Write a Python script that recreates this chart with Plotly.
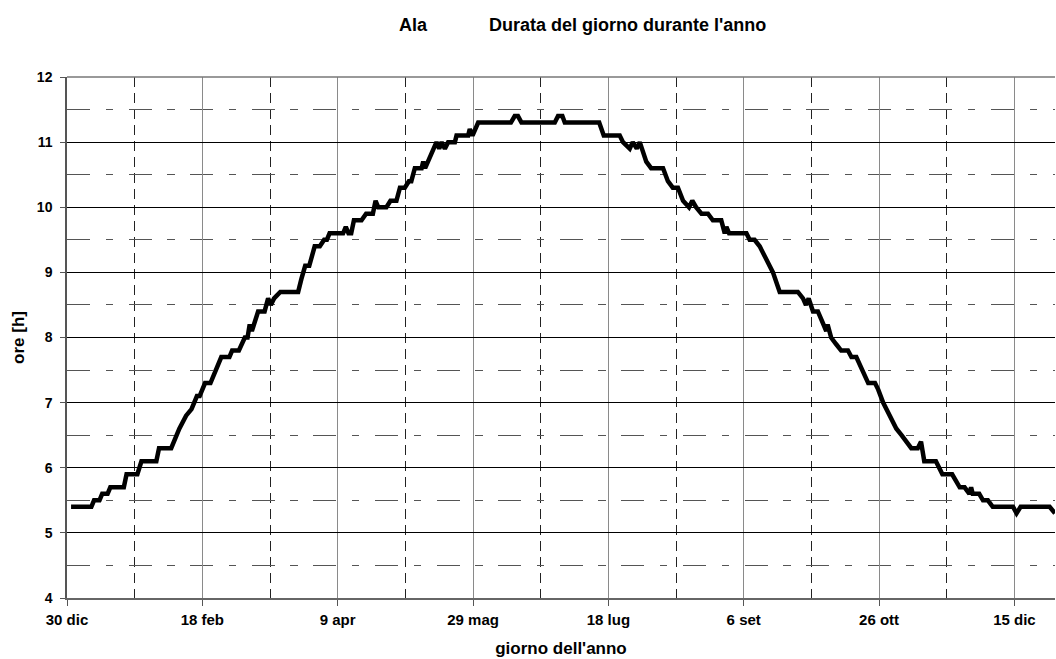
import plotly.graph_objects as go

# Breakpoints of the day-length curve (day of year, hours)
days = [1.5, 9, 10, 12, 13, 15, 16, 21, 22, 26, 27.5, 33, 34, 38.5, 41.5, 44, 46, 48, 49,
        51, 53, 54, 55, 57, 60, 61, 63.5, 64.5, 65.7, 66.7, 67.5, 68.3, 69, 70.6, 73,
        74.3, 75.3, 76.5, 78.8, 85.4, 86.6, 88, 89.5, 91.5, 93.4, 95, 96, 97, 102, 103,
        104, 105, 106, 108.8, 110.5, 113, 114, 115, 118, 119.5, 121.7, 123, 124.8, 126.3,
        127.2, 128.5, 131, 131.6, 132.3, 133.4, 135.3, 136.5, 137.5, 138.4, 139.6, 140.8,
        143.3, 143.9, 148.2, 148.8, 149.8, 151.9, 164, 165.4, 166.6, 167.9, 180.2, 181.4,
        183, 183.9, 196.6, 198.3, 204.2, 205.4, 207.9, 209, 210.5, 211.6, 214, 215.8,
        220.2, 222, 223.8, 225.7, 227.6, 229.8, 231, 232.4, 234.4, 236.8, 238.6, 241.7,
        243, 243.6, 244.6, 251, 252.2, 254, 255.9, 259.6, 260.8, 263.3, 270, 271.9, 273,
        274, 275.6, 277.4, 280.5, 281, 282.3, 284.1, 286, 288.5, 289.8, 291.6, 294.7, 296,
        298.5, 299.7, 301.5, 306.4, 308.3, 310, 311.9, 314.3, 315.5, 316.7, 321, 323.4,
        327, 329.8, 331.6, 333.4, 334, 334.6, 337, 338.4, 340.2, 342, 349.5, 350.8, 352.3,
        363, 365]
hours = [5.4, 5.4, 5.5, 5.5, 5.6, 5.6, 5.7, 5.7, 5.9, 5.9, 6.1, 6.1, 6.3, 6.3, 6.6, 6.8,
         6.9, 7.1, 7.1, 7.3, 7.3, 7.4, 7.5, 7.7, 7.7, 7.8, 7.8, 7.9, 8.0, 8.0, 8.2, 8.1, 8.2,
         8.4, 8.4, 8.6, 8.5, 8.6, 8.7, 8.7, 8.9, 9.1, 9.1, 9.4, 9.4, 9.5, 9.5, 9.6, 9.6, 9.7,
         9.6, 9.6, 9.8, 9.8, 9.9, 9.9, 10.1, 10.0, 10.0, 10.1, 10.1, 10.3, 10.3, 10.4,
         10.4, 10.6, 10.6, 10.7, 10.6, 10.7, 10.9, 11.0, 10.9, 11.0, 10.9, 11.0,
         11.0, 11.1, 11.1, 11.2, 11.1, 11.3, 11.3, 11.4, 11.4, 11.3, 11.3, 11.4,
         11.4, 11.3, 11.3, 11.1, 11.1, 11.0, 10.9, 11.0, 10.9, 11.0, 10.7, 10.6,
         10.6, 10.4, 10.3, 10.3, 10.1, 10.0, 10.1, 10.0, 9.9, 9.9, 9.8, 9.8,
         9.6, 9.7, 9.6, 9.6, 9.5, 9.5, 9.4, 9.1, 9.0, 8.7, 8.7, 8.6, 8.5,
         8.6, 8.4, 8.4, 8.1, 8.2, 8.0, 7.9, 7.8, 7.8, 7.7, 7.7, 7.4, 7.3,
         7.3, 7.2, 7.0, 6.6, 6.5, 6.4, 6.3, 6.3, 6.4, 6.1, 6.1, 5.9,
         5.9, 5.7, 5.7, 5.6, 5.7, 5.6, 5.6, 5.5, 5.5, 5.4, 5.4, 5.3, 5.4,
         5.4, 5.3]

tick_days = [0, 50, 100, 150, 200, 250, 300, 350]
tick_labels = ["30 dic", "18 feb", "9 apr", "29 mag", "18 lug", "6 set", "26 ott", "15 dic"]

FONT = "Liberation Sans, Arial, sans-serif"
W, H = 1056, 659
ML, MR, MT, MB = 67, 1, 77, 61
PW, PH = W - ML - MR, H - MT - MB


def px_x(px):
    return (px - ML) / PW


def px_y(py):
    return 1 + (MT - py) / PH


fig = go.Figure()
fig.add_trace(go.Scatter(x=days, y=hours, mode="lines",
                         line=dict(color="black", width=4.5), hoverinfo="skip",
                         showlegend=False))

title_font = dict(size=18, family=FONT, color="black", weight="bold")
fig.update_layout(
    width=W, height=H,
    margin=dict(l=ML, r=MR, t=MT, b=MB),
    paper_bgcolor="white", plot_bgcolor="white",
    font=dict(family=FONT, color="black", size=14),
    showlegend=False,
    annotations=[
        dict(text="Ala", x=px_x(413.5), y=px_y(25), xref="paper", yref="paper",
             xanchor="center", yanchor="middle", showarrow=False, font=title_font),
        dict(text="Durata del giorno durante l'anno", x=px_x(627), y=px_y(25),
             xref="paper", yref="paper", xanchor="center", yanchor="middle",
             showarrow=False, font=title_font),
    ],
)

fig.update_xaxes(
    range=[0, 365], tickvals=tick_days, ticktext=tick_labels,
    tickfont=dict(size=15, family=FONT, color="black", weight="bold"),
    ticks="outside", ticklen=6, tickcolor="#555555", ticklabelstandoff=1,
    showline=True, linecolor="#666666", linewidth=2,
    showgrid=True, gridcolor="#8a8a8a", gridwidth=1,
    zeroline=False,
    minor=dict(dtick=25, tick0=0, showgrid=True, gridcolor="#222222",
               griddash="10px,6px", gridwidth=1, ticks=""),
    title=dict(text="giorno dell'anno",
               font=dict(size=17, family=FONT, color="black", weight="bold"), standoff=15),
)
fig.update_yaxes(
    range=[4, 12], dtick=1, tick0=4,
    tickfont=dict(size=14, family=FONT, color="black", weight="bold"),
    ticks="outside", ticklen=5, tickcolor="#555555", ticklabelstandoff=5,
    showline=True, linecolor="#555555", linewidth=1.5,
    showgrid=True, gridcolor="black", gridwidth=1,
    zeroline=False,
    minor=dict(dtick=0.5, tick0=4, showgrid=True, gridcolor="#555555",
               griddash="23px,15.5px,7.5px,15.6px", gridwidth=1, ticks=""),
    title=dict(text="ore [h]",
               font=dict(size=17, family=FONT, color="black", weight="bold"), standoff=8),
)
fig.add_shape(type="line", xref="paper", yref="paper", x0=0, x1=1, y0=1, y1=1,
              line=dict(color="#777777", width=1.5), layer="above")

fig.write_html("out.html")
